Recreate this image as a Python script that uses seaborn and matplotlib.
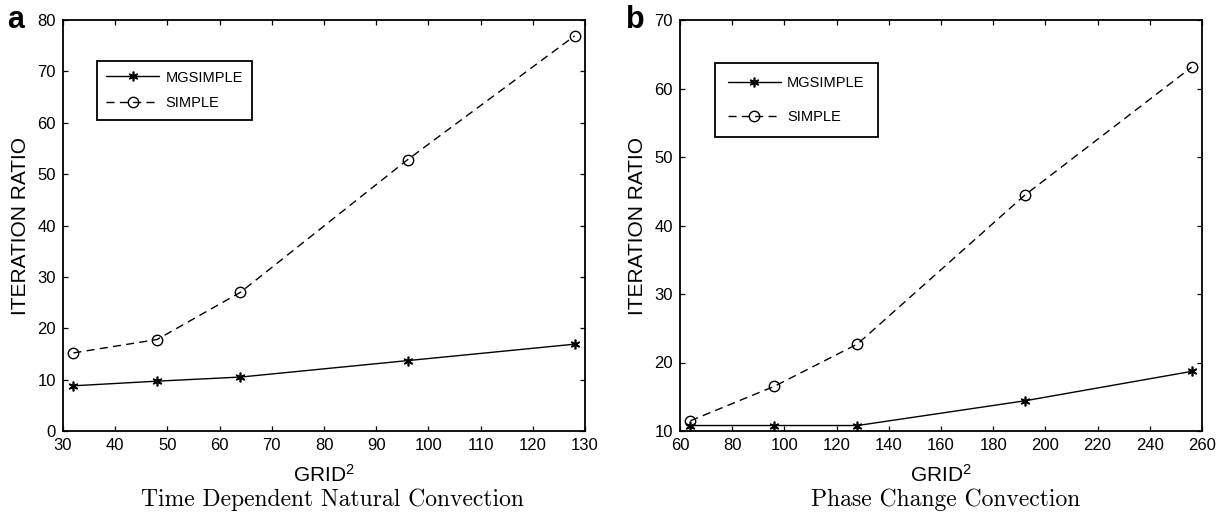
import numpy as np
import pandas as pd
import matplotlib
matplotlib.use("Agg")
import matplotlib.pyplot as plt
import seaborn as sns

# panel a: time dependent natural convection
grid_a = [32, 48, 64, 96, 128]
mg_a = [8.8, 9.7, 10.5, 13.7, 16.9]
simple_a = [15.2, 17.8, 27.0, 52.8, 76.9]

# panel b: phase change convection
grid_b = [64, 96, 128, 192, 256]
mg_b = [10.8, 10.8, 10.8, 14.4, 18.7]
simple_b = [11.5, 16.5, 22.7, 44.4, 63.1]

sns.set_style("ticks")
plt.rcParams['font.family'] = ['Liberation Sans', 'DejaVu Sans']
plt.rcParams['mathtext.fontset'] = 'custom'
plt.rcParams['mathtext.rm'] = 'Liberation Sans'
plt.rcParams['mathtext.it'] = 'Liberation Sans'
plt.rcParams['text.color'] = 'black'
plt.rcParams['axes.labelcolor'] = 'black'
plt.rcParams['xtick.color'] = 'black'
plt.rcParams['ytick.color'] = 'black'

fig = plt.figure(figsize=(12.31, 5.16), dpi=100)
W, H = 1231, 516
ax_a = fig.add_axes([63 / W, 1 - 431 / H, 522 / W, 411 / H])
ax_b = fig.add_axes([680 / W, 1 - 431 / H, 522 / W, 411 / H])


def draw(ax, grid, mg, simple, xlim, xticks, ylim, yticks, leg_xy, spacing, bpad):
    df = pd.DataFrame({"grid": grid, "MGSIMPLE": mg, "SIMPLE": simple})
    sns.lineplot(data=df, x="grid", y="MGSIMPLE", ax=ax, color="black", lw=1.0,
                 marker=(6, 2, 0), markersize=7, markeredgewidth=1.2,
                 markeredgecolor="black", label="MGSIMPLE")
    sns.lineplot(data=df, x="grid", y="SIMPLE", ax=ax, color="black", lw=1.0,
                 marker="o", markersize=7.5, markerfacecolor="none",
                 markeredgecolor="black", markeredgewidth=1.0,
                 linestyle=(0, (5.8, 3.8)), label="SIMPLE")
    ax.set_xlim(*xlim)
    ax.set_ylim(*ylim)
    ax.set_xticks(xticks)
    ax.set_yticks(yticks)
    ax.tick_params(direction="in", top=True, right=True, length=3.5,
                   width=0.9, labelsize=12, pad=5)
    for s in ax.spines.values():
        s.set_linewidth(1.3)
        s.set_color("black")
    ax.set_xlabel("GRID$^2$", fontsize=15)
    ax.xaxis.set_label_coords(0.5, -0.107)
    ax.xaxis.label.set_va("center")
    ax.set_ylabel("ITERATION RATIO", fontsize=15)
    ax.yaxis.set_label_coords(-0.082, 0.5)
    ax.yaxis.label.set_va("center")
    leg = ax.legend(loc="upper left", bbox_to_anchor=leg_xy, fontsize=10.5,
                    frameon=True, fancybox=False, edgecolor="black",
                    borderpad=bpad, labelspacing=spacing, handlelength=3.6,
                    handletextpad=0.45, borderaxespad=0, framealpha=1)
    leg.get_frame().set_linewidth(1.3)


draw(ax_a, grid_a, mg_a, simple_a, (30, 130), np.arange(30, 131, 10),
     (0, 80), np.arange(0, 81, 10), (0.065, 0.900), 0.8, 0.65)
draw(ax_b, grid_b, mg_b, simple_b, (60, 260), np.arange(60, 261, 20),
     (10, 70), np.arange(10, 71, 10), (0.067, 0.895), 1.35, 0.9)

fig.text(16 / W, 1 - 20 / H, "a", fontsize=22, fontweight="bold",
         ha="center", va="center")
fig.text(635 / W, 1 - 20 / H, "b", fontsize=22, fontweight="bold",
         ha="center", va="center")

fig.text(332 / W, 1 - 500 / H, "Time Dependent Natural Convection",
         family="cmr10", fontsize=17, ha="center", va="center")
fig.text(946 / W, 1 - 500 / H, "Phase Change Convection",
         family="cmr10", fontsize=17, ha="center", va="center")

fig.savefig("out.png", dpi=100)
